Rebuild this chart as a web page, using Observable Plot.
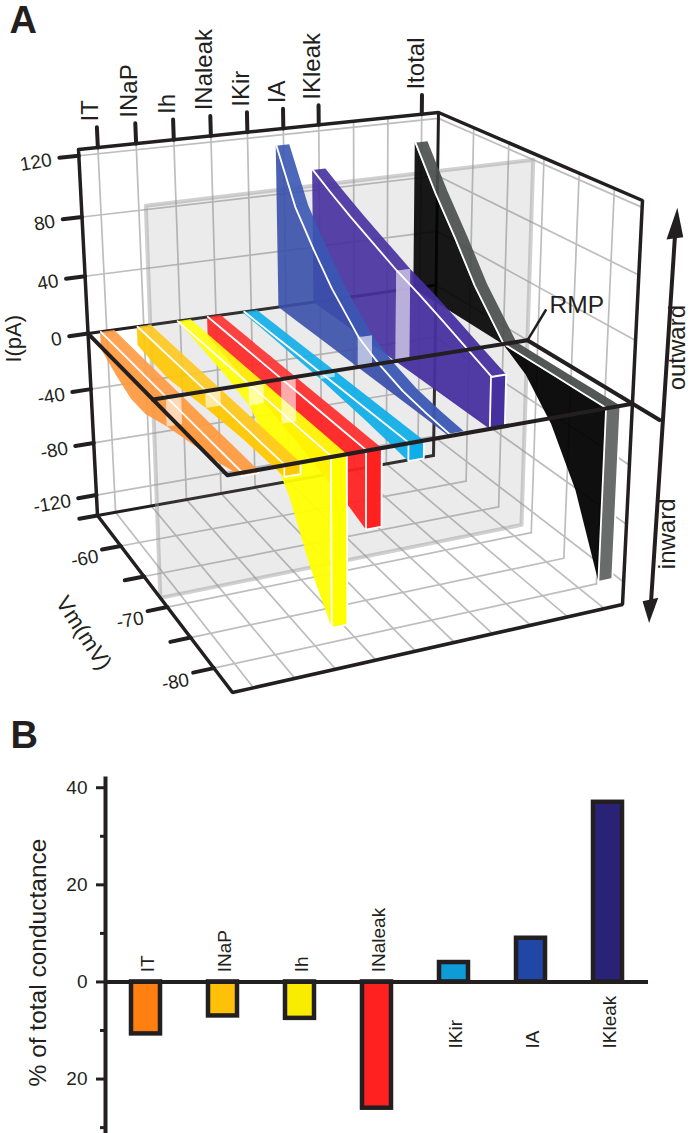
<!DOCTYPE html>
<html><head><meta charset="utf-8">
<script src="https://cdn.jsdelivr.net/npm/d3@7"></script>
<script src="https://cdn.jsdelivr.net/npm/@observablehq/plot@0.6"></script>
<style>html,body{margin:0;padding:0;background:#fff}svg{display:block}</style>
</head><body><div id="a"></div><div id="b"></div>
<script>
// ---------- Panel A values
const vmSamples = [-55,-58,-61,-64,-68.5,-72,-76,-80,-84];
const channelNames = ["IT","INaP","Ih","INaleak","IKir","IA","IKleak","Itotal"];
const tickPositions = [0,1,2,3,4,5,6,9];
const ribbonPositions = [-0.18,0.81,1.91,2.75,3.78,4.78,5.8,8.8];
const iT = [-12,-20,-26,-26,-19,-15,-11,-7,-2];
const iNaP = [-13,-15,-16,-14,-11,-9.5,-8,-7.5,-7];
const iH = [0,-2,-5,-8,-14,-27,-50,-84,-108];
const iNaleak = [-14,-17.5,-21,-24.5,-30,-34,-38.5,-43,-49];
const iKir = [-1,-1.5,-2,-3,-4,-5.5,-7,-9,-11];
const iA = [113,79,58,40,20,12,6,3,1];
const iKleak = [94,85,77,70,60,54,46.5,39,32];
const iTotal = [105,77,53,28,0,-11,-33,-66,-116];
const sideColors = ["#ff9638","#ffc800","#ffff00","#ff2222","#10aee8","#3a50aa","#46309f","#000000"];
const topColors  = ["#ff9a42","#ffc81e","#ffff10","#ff3030","#10aee8","#3a58b4","#46309f","#484c4a"];
const capColors  = ["#ff9a42","#ffc800","#ffff00","#ff2020","#10aee8","#3a50aa","#46309f","#6a6c6c"];
const currentTicks = [120,80,40,0,-40,-80,-120];
const vmTicks = [-55,-60,-65,-70,-75,-80];
const vmLabels = [-60,-70,-80];
const rmp = -68.5;
const allSeries = [iT,iNaP,iH,iNaleak,iKir,iA,iKleak,iTotal];

// ---------- Panel B values
const condNames = ["IT","INaP","Ih","INaleak","IKir","IA","IKleak"];
const condValues = [-10.7,-7,-7.5,-26,4,9,37];
const condColors = ["#ff7f11","#ffc107","#f9ec00","#ff2020","#0f9bd7","#2047a5","#2a2277"];
const condLabelY = [2,2,2,2,-13.7,-13.7,-13.7];

// ---------- 3D box: picture of its eight corners, then the projection
const lbt=[78,149], rbt=[438,112], lft=[222,255], rft=[642,200],
      lbb=[97,515], rbb=[433,455], lfb=[232,692], rfb=[622,604];
const warp=(t,k)=>t*(1+k)/(1+k*t);
const lerp=(a,b,t)=>[a[0]+(b[0]-a[0])*t,a[1]+(b[1]-a[1])*t];
function project(c,v,i){
  const u=warp((c+.5)/10,.08), s=(v+55)/-29, t=warp((124-i)/260,.11);
  const top=lerp(lerp(lbt,rbt,u),lerp(lft,rft,u),s);
  const bot=lerp(lerp(lbb,rbb,u),lerp(lfb,rfb,u),s);
  return lerp(top,bot,t);
}
const cMin=-.5,cMax=9.5,vB=-55,vF=-84,iHi=124,iLo=-136,W=.38;
let uid=0;
function seg(list,pts3,extra={}){const id=uid++;pts3.forEach(p=>{const q=project(...p);list.push({x:q[0],y:q[1],id,...extra});});}
function poly(list,pts3,color){const id=uid++;[...pts3,pts3[0]].forEach(p=>{const q=project(...p);list.push({x:q[0],y:q[1],id,color});});}

const grid=[];
const gridC=d3.range(0,10), gridI=currentTicks, gridV=d3.range(-60,-84,-5);
gridC.forEach(c=>{seg(grid,[[c,vB,iHi],[c,vB,iLo]]);seg(grid,[[c,vB,iLo],[c,vF,iLo]]);});
gridI.forEach(i=>{seg(grid,[[cMin,vB,i],[cMax,vB,i]]);seg(grid,[[cMax,vB,i],[cMax,vF,i]]);});
gridV.forEach(v=>{seg(grid,[[cMin,v,iLo],[cMax,v,iLo]]);seg(grid,[[cMax,v,iHi],[cMax,v,iLo]]);});

const rearLines=[];
seg(rearLines,[[cMin,vB,iLo],[cMax,vB,iLo]]);
seg(rearLines,[[cMax,vB,iHi],[cMax,vB,iLo]]);
seg(rearLines,[[cMin,vB,0],[cMax,vB,0]]);

const grayPlane=[];
poly(grayPlane,[[cMin,rmp,iHi-4],[cMax,rmp,iHi-4],[cMax,rmp,iLo],[cMin,rmp,iLo]],"#808080");

function ribbon(list,white,k,from,to){
  const c=ribbonPositions[k], s=allSeries[k], idx=d3.range(from,to+1);
  const top=j=>Math.max(s[j],0);
  poly(list,[...idx.map(j=>[c,vmSamples[j],s[j]]),...idx.slice().reverse().map(j=>[c,vmSamples[j],top(j)])],sideColors[k]);
  // the body between curve and zero line
  poly(list,[...idx.map(j=>[c,vmSamples[j],top(j)]),...idx.slice().reverse().map(j=>[c,vmSamples[j],0])],sideColors[k]);
  poly(list,[...idx.map(j=>[c,vmSamples[j],top(j)]),...idx.slice().reverse().map(j=>[c+W,vmSamples[j],top(j)])],topColors[k]);
  seg(white,idx.map(j=>[c+.02,vmSamples[j],top(j)]));
}
const backFill=[],backWhite=[],frontFill=[],frontWhite=[],cuts=[],caps=[];
for(let k=7;k>=0;k--){
  ribbon(backFill,backWhite,k,0,4);
  ribbon(frontFill,frontWhite,k,4,8);
  const c=ribbonPositions[k], last=allSeries[k][8], mid=allSeries[k][4];
  poly(cuts,[[c,rmp,mid],[c+W,rmp,mid],[c+W,rmp,0],[c,rmp,0]],"#ffffff");
  poly(caps,[[c,vF,Math.max(last,0)],[c+W,vF,Math.max(last,0)],[c+W,vF,Math.min(last,0)],[c,vF,Math.min(last,0)]],capColors[k]);
}

const box=[];
seg(box,[[cMin,vB,iHi],[cMax,vB,iHi],[cMax,vF,iHi],[cMax,vF,iLo],[cMin,vF,iLo],[cMin,vB,iLo],[cMin,vB,iHi]]);
const plane=[];
seg(plane,[[cMin,vB,0],[cMin,vF,0],[cMax,vF,0]]);
seg(plane,[[cMin,rmp,0],[cMax,rmp,0]]);
seg(plane,[[cMax,rmp,0],[cMax,-88,0]]);
const ticks=[];
currentTicks.forEach(i=>seg(ticks,[[cMin,vB,i],[-1,vB,i]]));
vmTicks.forEach(v=>seg(ticks,[[cMin,v,iLo],[-1,v,iLo]]));
tickPositions.forEach(c=>seg(ticks,[[c,vB,iHi],[c,vB,137]]));
const leader=[];
seg(leader,[[cMax,rmp,0],[10,rmp,19]]);
const arrowShaft=[], arrowHeads=[];
seg(arrowShaft,[[10.4,vF,104],[10.3,vF,-141]]);
poly(arrowHeads,[[10.42,vF,117],[10.62,vF,99],[10.18,vF,99]],"#231f20");
poly(arrowHeads,[[10.28,vF,-154],[10.5,vF,-137],[10.06,vF,-137]],"#231f20");

function lab(c,v,i,text){const q=project(c,v,i);return {x:q[0],y:q[1],text};}
const ink="#231f20", font="Liberation Sans, Arial, sans-serif";
const poly3={x:"x",y:"y",z:"id"};

document.getElementById("a").append(Plot.plot({
  width:698,height:710,margin:0,
  style:{fontFamily:font,background:"#fff",color:ink},
  x:{domain:[0,698],range:[0,698],axis:null},
  y:{domain:[0,710],range:[0,710],axis:null},
  color:{type:"identity"},
  marks:[
    Plot.line(grid,{...poly3,stroke:"#bdbdbd",strokeWidth:1.7}),
    Plot.line(rearLines,{...poly3,stroke:ink,strokeWidth:3}),
    Plot.line(grayPlane,{...poly3,fill:"color",fillOpacity:.16,stroke:"#999",strokeOpacity:.45,strokeWidth:4}),
    Plot.line(backFill,{...poly3,fill:"color",fillOpacity:.9}),
    Plot.line(backWhite,{...poly3,stroke:"#fff",strokeWidth:1.8}),
    Plot.line(frontFill,{...poly3,fill:"color",fillOpacity:.94}),
    Plot.line(cuts,{...poly3,fill:"color",fillOpacity:.6}),
    Plot.line(caps,{...poly3,fill:"color",stroke:"#fff",strokeWidth:1.8}),
    Plot.line(frontWhite,{...poly3,stroke:"#fff",strokeWidth:1.8}),
    Plot.line(box,{...poly3,stroke:ink,strokeWidth:3.5,strokeLinejoin:"miter"}),
    Plot.line(plane,{...poly3,stroke:ink,strokeWidth:4}),
    Plot.line(ticks,{...poly3,stroke:ink,strokeWidth:4}),
    Plot.line(leader,{...poly3,stroke:ink,strokeWidth:2.5}),
    Plot.line(arrowShaft,{...poly3,stroke:ink,strokeWidth:4}),
    Plot.line(arrowHeads,{...poly3,fill:"color"}),
    Plot.text(tickPositions.map((c,k)=>lab(c,vB,140,channelNames[k])),{x:"x",y:"y",text:"text",rotate:-90,textAnchor:"start",fontSize:24,dx:-6,dy:-1,fill:ink}),
    Plot.text(currentTicks.map(i=>lab(-1.2,vB,i,String(i))),{x:"x",y:"y",text:"text",rotate:-10,textAnchor:"end",fontSize:19,dy:1,fill:ink}),
    Plot.text(vmLabels.map(v=>lab(-1.1,v,iLo,String(v))),{x:"x",y:"y",text:"text",rotate:-10,textAnchor:"end",fontSize:19,dy:6,fill:ink}),
    Plot.text([lab(-1.5,vB,-2,"I(pA)")],{x:"x",y:"y",text:"text",rotate:-90,fontSize:22,dx:-36,dy:-3,fill:ink}),
    Plot.text([lab(-2.75,-71.5,iLo,"Vm(mV)")],{x:"x",y:"y",text:"text",rotate:57,fontSize:22.5,dy:-2,fill:ink}),
    Plot.text([lab(10.05,rmp,22,"RMP")],{x:"x",y:"y",text:"text",textAnchor:"start",fontSize:24.5,dx:2,fill:ink}),
    Plot.text([lab(10.7,vF,34,"outward")],{x:"x",y:"y",text:"text",rotate:-90,fontSize:24,dx:-3,dy:5,fill:ink}),
    Plot.text([lab(10.7,vF,-90,"inward")],{x:"x",y:"y",text:"text",rotate:-90,fontSize:24,dx:-2,dy:4,fill:ink}),
    Plot.text(["A"],{frameAnchor:"top-left",dx:9,dy:20,fontSize:38,fontWeight:"bold",lineAnchor:"middle",fill:ink})
  ]
}));

// ---------- Panel B
const condRows=condNames.map((name,k)=>({name,value:condValues[k],color:condColors[k],labelY:condLabelY[k]}));
document.getElementById("b").append(Plot.plot({
  width:698,height:423,marginLeft:105,marginRight:50,marginTop:68,marginBottom:2,
  style:{fontFamily:font,background:"#fff",color:ink},
  x:{domain:condNames,paddingInner:.62,paddingOuter:.31,axis:null},
  y:{domain:[41.9,-30.8],range:[68,421],axis:null},
  color:{type:"identity"},
  marks:[
    Plot.barY(condRows,{x:"name",y:"value",fill:"color",stroke:ink,strokeWidth:4.5}),
    Plot.ruleY([0],{stroke:ink,strokeWidth:4}),
    Plot.frame({anchor:"left",stroke:ink,strokeWidth:4}),
    Plot.axisY({ticks:[40,20,0,-20],tickSize:9,tickPadding:9,tickFormat:Math.abs,fontSize:19,stroke:ink,strokeWidth:3,label:null,fill:ink}),
    Plot.axisY({ticks:[30,10,-10,-30],tickSize:5,tickFormat:()=>"",stroke:ink,strokeWidth:3,label:null}),
    Plot.text(condRows,{x:"name",y:"labelY",text:"name",rotate:-90,textAnchor:"start",fontSize:19,dx:2,fill:ink}),
    Plot.text(["% of total conductance"],{y:()=>4,frameAnchor:"left",textAnchor:"middle",rotate:-90,fontSize:24.5,dx:-67,fill:ink}),
    Plot.text(["B"],{frameAnchor:"top-left",dx:-95,dy:-43,lineAnchor:"middle",fontSize:38,fontWeight:"bold",fill:ink})
  ]
}));
</script></body></html>
